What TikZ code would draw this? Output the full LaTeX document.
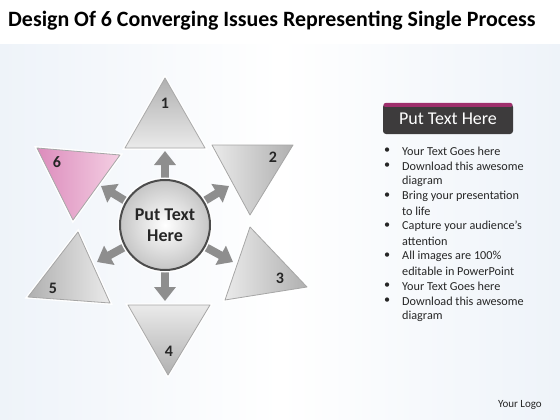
\documentclass[tikz,border=0pt]{standalone}
\usepackage{fontspec}
\setmainfont{Carlito}
\usetikzlibrary{arrows.meta}
\definecolor{bgblue}{HTML}{EEF3F9}
\definecolor{trilight}{HTML}{EAEAEA}
\definecolor{tridark}{HTML}{B0B0B0}
\definecolor{pinklight}{HTML}{F4CFE3}
\definecolor{pinkdark}{HTML}{DC8CBC}
\definecolor{arrowgray}{HTML}{8E8E8E}
\definecolor{boxdark}{HTML}{3D3B3C}
\definecolor{boxtop}{HTML}{9E2F6C}
\begin{document}
\begin{tikzpicture}[x=1pt,y=-1pt,
  tri/.style={draw=gray!70,line width=0.8pt,preaction={draw=white,line width=3.5pt},line join=round},
  num/.style={font=\bfseries\fontsize{16}{16}\selectfont,text=black!85,inner sep=0pt},
  outarrow/.style={draw=arrowgray,line width=8pt,-{Triangle[width=21pt,length=14pt]}},
  bul/.style={anchor=west,inner sep=0pt,font=\fontsize{12.2}{12.5}\selectfont,text=black!85},
]
\useasboundingbox (0,0) rectangle (560,420);
\fill[white] (0,0) rectangle (560,420);
\shade[left color=bgblue,right color=bgblue,middle color=white] (0,45) rectangle (560,420);
\fill[white] (0,0) rectangle (560,44);

% title
\node[anchor=west,inner sep=0pt,font=\bfseries\fontsize{21.9}{22}\selectfont] (title) at (8,21) {Design Of 6 Converging Issues Representing Single Process};

% centre and arrow tips
\coordinate (c) at (165,225);
\coordinate (a1) at (165,151);
\coordinate (a2) at (229,186);
\coordinate (a3) at (233,262);
\coordinate (a4) at (165,301);
\coordinate (a5) at (97,262);
\coordinate (a6) at (101,186);

% triangles
\shade[tri,top color=tridark,bottom color=trilight] (165,78) -- (205,148) -- (125,148) -- cycle;
\shade[tri,left color=trilight,right color=tridark] (212,145) -- (293,145) -- (250,215) -- cycle;
\shade[tri,left color=trilight,right color=tridark] (250,227) -- (307,287) -- (225,300) -- cycle;
\shade[tri,top color=trilight,bottom color=tridark] (128,305) -- (210,305) -- (168,375) -- cycle;
\shade[tri,left color=tridark,right color=trilight] (78,232) -- (110,303) -- (28,297) -- cycle;
\shade[tri,left color=pinkdark,right color=pinklight] (37,148) -- (120,155) -- (73,220) -- cycle;

\node[num] (n1) at (165,103) {1};
\node[num] (n2) at (273,157) {2};
\node[num] (n3) at (280,278) {3};
\node[num] (n4) at (169,351) {4};
\node[num] (n5) at (53,288) {5};
\node[num] (n6) at (57,162) {6};

% arrows
\foreach \t in {a1,a2,a3,a4,a5,a6}{\draw[outarrow] (c) -- (\t);}

% centre circle
\node[circle,minimum size=90pt,inner sep=0pt,draw=black!70,line width=2pt,
      preaction={draw=white,line width=5pt},
      inner color=white,outer color=gray!45,
      align=center,font=\bfseries\fontsize{18}{21}\selectfont,text=black!85] (hub) at (c) {Put Text\\Here};

% right panel
\node[fill=boxdark,rounded corners=3pt,minimum width=130pt,minimum height=30pt,inner sep=0pt,
      text=white,font=\fontsize{18}{18}\selectfont] (head) at (448,119) {Put Text Here};
\fill[boxtop,rounded corners=2pt] (383.5,103) rectangle (512.5,107);

\foreach \y/\txt/\b in {151/Your Text Goes here/1,166/Download this awesome/1,181/diagram/0,196/Bring your presentation/1,211/to life/0,226/Capture your audience’s/1,241/attention/0,256/All images are 100\%/1,271/editable in PowerPoint/0,286/Your Text Goes here/1,301/Download this awesome/1,316/diagram/0}{
  \node[bul] at (402,\y) {\txt};
  \ifnum\b=1 \node[bul] at (384,\y) {•};\fi
}

\node[anchor=east,inner sep=0pt,font=\fontsize{11}{11}\selectfont,text=black!85] (logo) at (542,405) {Your Logo};
\end{tikzpicture}
\end{document}
